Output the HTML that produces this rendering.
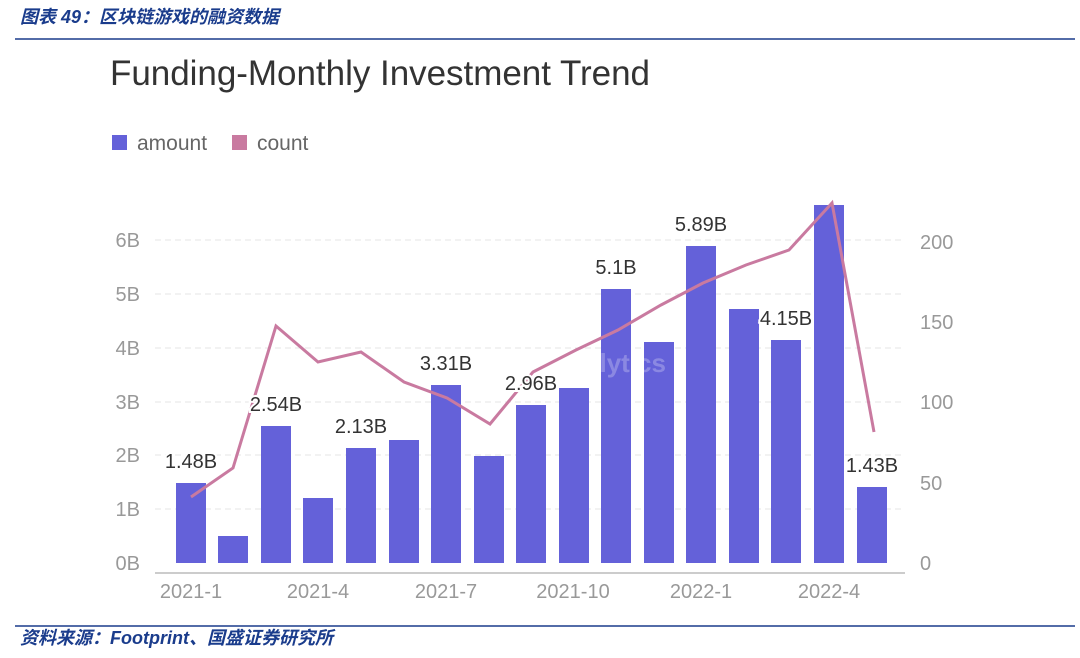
<!DOCTYPE html>
<html><head><meta charset="utf-8"><style>
body{margin:0;background:#fff;width:1080px;height:653px;overflow:hidden;font-family:"Liberation Sans","Noto Sans CJK SC",sans-serif}
</style></head><body>
<svg width="1080" height="653" xmlns="http://www.w3.org/2000/svg" font-family="Liberation Sans, Noto Sans CJK SC, sans-serif">
<text x="20" y="23" font-size="18" font-style="italic" fill="#1a3c8c" font-weight="bold">图表 49：区块链游戏的融资数据</text>
<line x1="15" y1="39" x2="1075" y2="39" stroke="#1a3c8c" stroke-width="1.5"/>
<text x="110" y="85" font-size="35" fill="#333" textLength="540">Funding-Monthly Investment Trend</text>
<rect x="112" y="135" width="15" height="15" fill="#6461d9"/>
<text x="137" y="150" font-size="21" fill="#666">amount</text>
<rect x="232" y="135" width="15" height="15" fill="#c97aa0"/>
<text x="257" y="150" font-size="21" fill="#666">count</text>
<g stroke="#e6e6e6" stroke-dasharray="6,4">
<line x1="155" y1="509" x2="905" y2="509"/><line x1="155" y1="455" x2="905" y2="455"/>
<line x1="155" y1="402" x2="905" y2="402"/><line x1="155" y1="348" x2="905" y2="348"/>
<line x1="155" y1="294" x2="905" y2="294"/><line x1="155" y1="240" x2="905" y2="240"/>
</g>
<line x1="155" y1="573" x2="905" y2="573" stroke="#999"/>
<g font-size="20" fill="#999" text-anchor="end">
<text x="140" y="570">0B</text><text x="140" y="516">1B</text><text x="140" y="462">2B</text><text x="140" y="409">3B</text><text x="140" y="355">4B</text><text x="140" y="301">5B</text><text x="140" y="247">6B</text>
</g>
<g font-size="20" fill="#999">
<text x="920" y="570">0</text><text x="920" y="490">50</text><text x="920" y="409">100</text><text x="920" y="329">150</text><text x="920" y="249">200</text>
</g>
<g font-size="20" fill="#999" text-anchor="middle">
<text x="191" y="598">2021-1</text><text x="318" y="598">2021-4</text><text x="446" y="598">2021-7</text><text x="573" y="598">2021-10</text><text x="701" y="598">2022-1</text><text x="829" y="598">2022-4</text>
</g>
<g fill="#6461d9">
<rect x="176" y="483" width="30" height="80"/><rect x="218" y="536" width="30" height="27"/>
<rect x="261" y="426" width="30" height="137"/><rect x="303" y="498" width="30" height="65"/>
<rect x="346" y="448" width="30" height="115"/><rect x="389" y="440" width="30" height="123"/>
<rect x="431" y="385" width="30" height="178"/><rect x="474" y="456" width="30" height="107"/>
<rect x="516" y="405" width="30" height="158"/><rect x="559" y="388" width="30" height="175"/>
<rect x="601" y="289" width="30" height="274"/><rect x="644" y="342" width="30" height="221"/>
<rect x="686" y="246" width="30" height="317"/><rect x="729" y="309" width="30" height="254"/>
<rect x="771" y="340" width="30" height="223"/><rect x="814" y="205" width="30" height="358"/>
<rect x="857" y="487" width="30" height="76"/>
</g>
<text x="548" y="372" font-size="26" font-weight="bold" fill="#ffffff" fill-opacity="0.25" text-anchor="middle">Footprint Analytics</text>
<polyline fill="none" stroke="#c97aa0" stroke-width="3" points="191,497 233,468 276,326 318,362 361,352 404,382 447,398 490,424 533,372 576,350 618,330 661,305 703,283 746,265 789,250 832,203 874,432"/>
<g font-size="20" fill="#333" text-anchor="middle" stroke="#fff" stroke-width="4" paint-order="stroke">
<text x="191" y="468">1.48B</text><text x="276" y="411">2.54B</text><text x="361" y="433">2.13B</text>
<text x="446" y="370">3.31B</text><text x="531" y="390">2.96B</text><text x="616" y="274">5.1B</text>
<text x="701" y="231">5.89B</text><text x="786" y="325">4.15B</text><text x="872" y="472">1.43B</text>
</g>
<line x1="15" y1="626" x2="1075" y2="626" stroke="#1a3c8c" stroke-width="1.5"/>
<text x="20" y="644" font-size="18" font-style="italic" fill="#1a3c8c" font-weight="bold">资料来源：Footprint、国盛证券研究所</text>
</svg>
</body></html>
